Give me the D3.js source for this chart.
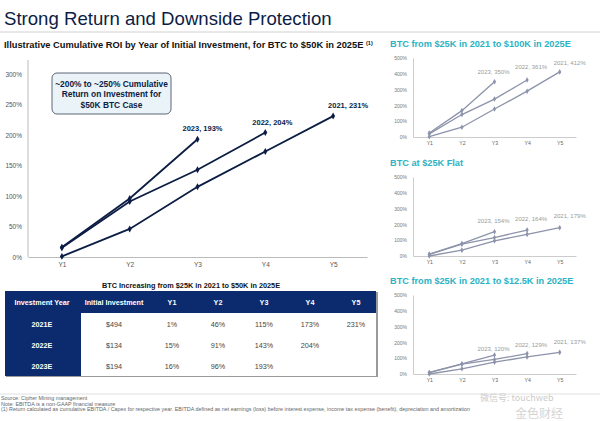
<!DOCTYPE html>
<html>
<head>
<meta charset="utf-8">
<script src="https://cdn.jsdelivr.net/npm/d3@7"></script>
<style>
  body { margin: 0; background: #fff; }
  svg { font-family: "Liberation Sans", Arial, sans-serif; display: block; }
</style>
</head>
<body>
<div class="chart"></div>
<script>
// Section 1: data
var years = ["Y1", "Y2", "Y3", "Y4", "Y5"];
var cohorts = ["2021", "2022", "2023"];

// main case: BTC to $50K in 2025E
var roi50k2021 = [1, 46, 115, 173, 231];
var roi50k2022 = [15, 91, 143, 204];
var roi50k2023 = [16, 96, 193];
var mainTicks = [0, 50, 100, 150, 200, 250, 300];

// small charts
var roi100k2021 = [2, 62, 177, 290, 412];
var roi100k2022 = [20, 142, 240, 361];
var roi100k2023 = [25, 167, 350];

var roiFlat2021 = [0, 37, 96, 137, 179];
var roiFlat2022 = [10, 75, 117, 164];
var roiFlat2023 = [12, 79, 154];

var roi12k2021 = [0, 33, 75, 108, 137];
var roi12k2022 = [8, 62, 92, 129];
var roi12k2023 = [10, 64, 120];
var smallTicks = [0, 100, 200, 300, 400, 500];

// table
var tableHeader = ["Investment Year", "Initial Investment", "Y1", "Y2", "Y3", "Y4", "Y5"];
var tableYears = ["2021E", "2022E", "2023E"];
var tableInvest = ["$494", "$134", "$194"];

var navy = "#0c1d45";
var tableBlue = "#0b2b6e";
var teal = "#2bb3c4";
var grayLine = "#8c93aa";

var svg = d3.select(".chart").append("svg").attr("width", 600).attr("height", 421);

// titles
svg.append("text").attr("x", 4).attr("y", 25).attr("font-size", 18.6)
  .attr("fill", navy).text("Strong Return and Downside Protection");
svg.append("line").attr("x1", 0).attr("x2", 600).attr("y1", 32).attr("y2", 32)
  .attr("stroke", "#d0d0d0").attr("stroke-width", 1);

var sub = svg.append("text").attr("x", 4).attr("y", 48).attr("font-size", 9.3)
  .attr("font-weight", "bold").attr("fill", "#111");
sub.append("tspan").text("Illustrative Cumulative ROI by Year of Initial Investment, for BTC to $50K in 2025E ");
sub.append("tspan").attr("font-size", 5.5).attr("dy", -3).text("(1)");

// Section 2: main chart
var mainX = d3.scalePoint().domain(years).range([28, 367]).padding(0.5);
var mainY = d3.scaleLinear().domain([0, 300]).range([257, 74]);

var mainG = svg.append("g");
mainG.append("g").attr("transform", "translate(28,0)")
  .call(d3.axisLeft(mainY).tickValues(mainTicks).tickFormat(function (d) { return d + "%"; }).tickSize(0).tickPadding(6))
  .call(function (g) {
    g.select(".domain").attr("stroke", "#bbb").attr("d", "M0,60V257");
    g.selectAll("text").attr("font-size", 6.5).attr("fill", "#555").attr("font-family", "Liberation Sans, Arial");
  });
mainG.append("g").attr("transform", "translate(0,257)")
  .call(d3.axisBottom(mainX).tickSize(0).tickPadding(5))
  .call(function (g) {
    g.select(".domain").attr("stroke", "#bbb");
    g.selectAll("text").attr("font-size", 6.5).attr("fill", "#555").attr("font-family", "Liberation Sans, Arial");
  });

var mainSeries = [
  { name: "2021", values: roi50k2021, dx: -5 },
  { name: "2022", values: roi50k2022, dx: -13 },
  { name: "2023", values: roi50k2023, dx: -15 },
];

var line = function (x, y) {
  return d3.line().x(function (d, i) { return x(years[i]); }).y(function (d) { return y(d); });
};

mainSeries.forEach(function (s) {
  mainG.append("path").attr("d", line(mainX, mainY)(s.values))
    .attr("fill", "none").attr("stroke", navy).attr("stroke-width", 1.8);
  mainG.selectAll(null).data(s.values).enter().append("path")
    .attr("d", d3.symbol().type(d3.symbolDiamond).size(14))
    .attr("transform", function (d, i) { return "translate(" + mainX(years[i]) + "," + mainY(d) + ")"; })
    .attr("fill", navy);
  var last = s.values.length - 1;
  mainG.append("text")
    .attr("x", mainX(years[last]) + s.dx).attr("y", mainY(s.values[last]) - 8)
    .attr("font-size", 7.5).attr("font-weight", "bold").attr("fill", navy)
    .text(s.name + ", " + s.values[last] + "%");
});

// callout
svg.append("rect").attr("x", 52).attr("y", 73).attr("width", 119).attr("height", 41).attr("rx", 5)
  .attr("fill", "#e9f3f8").attr("stroke", "#4d5566").attr("stroke-width", 0.9);
["~200% to ~250% Cumulative", "Return on Investment for", "$50K BTC Case"].forEach(function (t, i) {
  svg.append("text").attr("x", 111.5).attr("y", 87 + i * 10.3).attr("text-anchor", "middle")
    .attr("font-size", 8.4).attr("font-weight", "bold").attr("fill", navy).text(t);
});

// Section 3: table
svg.append("text").attr("x", 191).attr("y", 288).attr("text-anchor", "middle")
  .attr("font-size", 7.3).attr("font-weight", "bold").attr("fill", "#111")
  .text("BTC Increasing from $25K in 2021 to $50K in 2025E");

var colX = [42, 114, 172, 218, 264, 310, 356];
var rowY = [324, 345, 366];
var tableRows = [
  [tableYears[0], tableInvest[0]].concat(roi50k2021.map(function (d) { return d + "%"; })),
  [tableYears[1], tableInvest[1]].concat(roi50k2022.map(function (d) { return d + "%"; })),
  [tableYears[2], tableInvest[2]].concat(roi50k2023.map(function (d) { return d + "%"; })),
];

svg.append("rect").attr("x", 6).attr("y", 292).attr("width", 372).attr("height", 85).attr("fill", "#9a9a9a");
svg.append("rect").attr("x", 5).attr("y", 291).attr("width", 371).attr("height", 85).attr("fill", "#fff");
svg.append("rect").attr("x", 5).attr("y", 291).attr("width", 371).attr("height", 22).attr("fill", tableBlue);
svg.append("rect").attr("x", 5).attr("y", 291).attr("width", 76).attr("height", 85).attr("fill", tableBlue);

svg.selectAll(".th").data(tableHeader).enter().append("text").attr("class", "th")
  .attr("x", function (d, i) { return colX[i]; }).attr("y", 305)
  .attr("text-anchor", "middle").attr("font-size", 7.2).attr("font-weight", "bold").attr("fill", "#fff")
  .text(function (d) { return d; });

tableRows.forEach(function (row, r) {
  row.forEach(function (cell, c) {
    svg.append("text").attr("x", colX[c]).attr("y", rowY[r] + 2.5)
      .attr("text-anchor", "middle").attr("font-size", 7.2)
      .attr("font-weight", c === 0 ? "bold" : "normal")
      .attr("fill", c === 0 ? "#fff" : "#444").text(cell);
  });
});

// Section 4: small charts
function smallChart(title, top, series, labelYs) {
  var g = svg.append("g");
  g.append("text").attr("x", 390).attr("y", top).attr("font-size", 9.2).attr("font-weight", "bold")
    .attr("fill", teal).text(title);
  var x = d3.scalePoint().domain(years).range([413, 576]).padding(0.5);
  var y = d3.scaleLinear().domain([0, 500]).range([top + 90, top + 11]);
  g.append("g").attr("transform", "translate(413,0)")
    .call(d3.axisLeft(y).tickValues(smallTicks).tickFormat(function (d) { return d + "%"; }).tickSize(0).tickPadding(6))
    .call(function (a) {
      a.select(".domain").attr("stroke", "#ccc");
      a.selectAll("text").attr("font-size", 5).attr("fill", "#777").attr("font-family", "Liberation Sans, Arial");
    });
  g.append("g").attr("transform", "translate(0," + (top + 90) + ")")
    .call(d3.axisBottom(x).tickSize(0).tickPadding(4))
    .call(function (a) {
      a.select(".domain").attr("stroke", "#ccc");
      a.selectAll("text").attr("font-size", 5.2).attr("fill", "#666").attr("font-family", "Liberation Sans, Arial");
    });
  series.forEach(function (vals, k) {
    g.append("path").attr("d", line(x, y)(vals)).attr("fill", "none")
      .attr("stroke", grayLine).attr("stroke-width", 1.3);
    g.selectAll(null).data(vals).enter().append("path")
      .attr("d", d3.symbol().type(d3.symbolDiamond).size(9))
      .attr("transform", function (d, i) { return "translate(" + x(years[i]) + "," + y(d) + ")"; })
      .attr("fill", grayLine);
    var last = vals.length - 1;
    g.append("text")
      .attr("x", x(years[last]) + [-6, -12, -17][k])
      .attr("y", labelYs[k])
      .attr("font-size", 6).attr("fill", "#9a9a9a")
      .text(cohorts[k] + ", " + vals[last] + "%");
  });
}

smallChart("BTC from $25K in 2021 to $100K in 2025E", 47,
  [roi100k2021, roi100k2022, roi100k2023], [65, 69, 74]);
smallChart("BTC at $25K Flat", 166,
  [roiFlat2021, roiFlat2022, roiFlat2023], [218, 221, 223]);
smallChart("BTC from $25K in 2021 to $12.5K in 2025E", 284,
  [roi12k2021, roi12k2022, roi12k2023], [344, 347, 351]);

// Section 5: footer
svg.append("line").attr("x1", 0).attr("x2", 600).attr("y1", 394).attr("y2", 394)
  .attr("stroke", "#d8d8d8").attr("stroke-width", 0.8);
["Source: Cipher Mining management",
 "Note: EBITDA is a non-GAAP financial measure",
 "(1) Return calculated as cumulative EBITDA / Capex for respective year. EBITDA defined as net earnings (loss) before interest expense, income tax expense (benefit), depreciation and amortization"
].forEach(function (t, i) {
  svg.append("text").attr("x", 1).attr("y", 400 + i * 5.6).attr("font-size", 5.4).attr("fill", "#666").text(t);
});

// watermark
svg.append("text").attr("x", 480).attr("y", 401).attr("font-size", 9).attr("fill", "#ccc")
  .attr("font-family", "Noto Sans CJK SC").text("微信号: touchweb");
svg.append("text").attr("x", 515).attr("y", 418).attr("font-size", 12).attr("fill", "#d5d5d5")
  .attr("font-family", "Noto Sans CJK SC").text("金色财经");
</script>
</body>
</html>
